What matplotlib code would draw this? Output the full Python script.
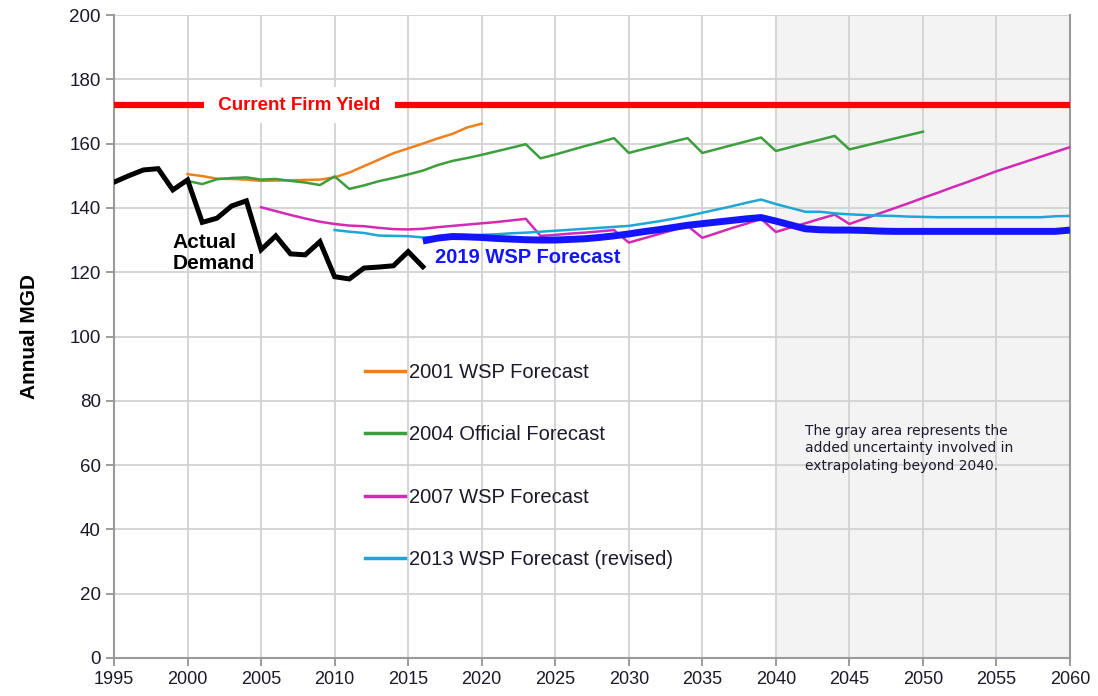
import matplotlib
matplotlib.use("Agg")
from matplotlib import pyplot as plt
from matplotlib.lines import Line2D
import numpy as np

plt.rcParams['font.family'] = ['Liberation Sans', 'DejaVu Sans']

# ---- data (MGD) ----
firm_yield = 172

actual_years = list(range(1995, 2017))
actual = [148, 150, 151.8, 152.2, 145.6, 148.7, 135.5, 136.8, 140.6, 142.2, 127,
          131.3, 125.7, 125.4, 129.5, 118.6, 117.9, 121.3, 121.6, 122, 126.4, 121.7]

f2001_years = list(range(2000, 2021))
f2001 = [150.5, 149.9, 149.1, 149.0, 148.8, 148.4, 148.5, 148.6, 148.7, 148.8, 149.5,
         151, 153, 155, 157, 158.5, 160, 161.6, 163, 165, 166.2]

f2004_years = list(range(2000, 2051))
f2004 = [148.4, 147.4, 148.9, 149.3, 149.5, 148.8, 149.0, 148.4, 147.9, 147.1, 149.8,
         145.9, 147.0, 148.3, 149.3, 150.4, 151.6, 153.3, 154.6, 155.5, 156.5,
         157.6, 158.7, 159.8, 155.4, 156.6, 157.9, 159.2, 160.4, 161.7, 157.1,
         158.3, 159.4, 160.6, 161.7, 157.1, 158.3, 159.5, 160.7, 161.9, 157.7,
         158.9, 160.1, 161.2, 162.4, 158.2, 159.3, 160.4, 161.5, 162.6, 163.7]

f2007_years = list(range(2005, 2061))
f2007 = [140.2, 139.0, 137.8, 136.7, 135.7, 135.0, 134.5, 134.3, 133.8, 133.4, 133.3,
         133.5, 134.0, 134.4, 134.8, 135.2, 135.6, 136.1, 136.6, 131.3, 131.6,
         132.0, 132.3, 132.7, 133.1, 129.2, 130.5, 131.8, 133.1, 134.4, 130.7,
         132.2, 133.7, 135.1, 136.6, 132.5, 133.9, 135.2, 136.6, 137.9, 135.0,
         136.6, 138.2, 139.8, 141.4, 143.1, 144.7, 146.4, 148.0, 149.7, 151.4,
         152.9, 154.4, 155.9, 157.4, 158.9]

f2013_years = list(range(2010, 2061))
f2013 = [133.1, 132.6, 132.2, 131.4, 131.3, 131.2, 130.8, 131.0, 131.2, 131.4, 131.6,
         131.8, 132.1, 132.3, 132.6, 132.9, 133.2, 133.5, 133.8, 134.1, 134.4,
         135.1, 135.8, 136.6, 137.5, 138.5, 139.5, 140.5, 141.6, 142.6, 141.2,
         140.0, 138.8, 138.8, 138.3, 138.0, 137.8, 137.6, 137.5, 137.3, 137.2,
         137.1, 137.1, 137.1, 137.1, 137.1, 137.1, 137.1, 137.1, 137.4, 137.5]

f2019_years = list(range(2016, 2061))
f2019 = [129.7, 130.6, 131.1, 131.0, 130.8, 130.5, 130.3, 130.1, 130.0, 130.0,
         130.2, 130.4, 130.8, 131.3, 131.9, 132.6, 133.2, 133.9, 134.6, 135.1,
         135.6, 136.1, 136.6, 137.0, 135.9, 134.7, 133.5, 133.2, 133.1, 133.1,
         133.0, 132.8, 132.7, 132.7, 132.7, 132.7, 132.7, 132.7, 132.7, 132.7,
         132.7, 132.7, 132.7, 132.7, 133.1]

legend_labels = ['2001 WSP Forecast', '2004 Official Forecast',
                 '2007 WSP Forecast', '2013 WSP Forecast (revised)']

x_ticks = list(range(1995, 2061, 5))
y_ticks = list(range(0, 201, 20))

# ---- colours ----
C_ORANGE = '#f07f1e'
C_GREEN = '#3c9e3c'
C_MAGENTA = '#d22ab4'
C_CYAN = '#1ea6d6'
C_BLUE = '#1414ff'
C_RED = '#ff0000'

fig = plt.figure(figsize=(10.98, 6.96), dpi=100)
ax = fig.add_axes([114 / 1098, 1 - 658 / 696, 956 / 1098, 643 / 696])

ax.axvspan(2040, 2060, color='#f3f3f3', zorder=0, lw=0)
ax.grid(True, color='#d2d2d2', lw=1.3, zorder=1)
ax.set_axisbelow(True)

ax.plot([1995, 2060], [firm_yield, firm_yield], color=C_RED, lw=4.5, zorder=3,
        solid_capstyle='butt')
ax.plot(f2001_years, f2001, color=C_ORANGE, lw=1.8, zorder=4)
ax.plot(f2004_years, f2004, color=C_GREEN, lw=1.8, zorder=4)
ax.plot(f2007_years, f2007, color=C_MAGENTA, lw=1.8, zorder=4)
ax.plot(f2013_years, f2013, color=C_CYAN, lw=1.8, zorder=5)
ax.plot(f2019_years, f2019, color=C_BLUE, lw=5, zorder=6, solid_capstyle='butt')
ax.plot(actual_years, actual, color='black', lw=3.6, zorder=7,
        solid_joinstyle='miter')

ax.set_xlim(1995, 2060)
ax.set_ylim(0, 200)
ax.set_xticks(x_ticks)
ax.set_yticks(y_ticks)
ax.tick_params(axis='both', labelsize=13, colors='#8a8a8a', labelcolor='#1a1a2a',
               length=6, width=1.2, direction='out')
ax.tick_params(axis='y', labelsize=13.5)

for side in ['left', 'bottom', 'right']:
    ax.spines[side].set_color('#9a9a9a')
    ax.spines[side].set_linewidth(1.5)
ax.spines['top'].set_visible(False)

ax.set_ylabel('Annual MGD', fontsize=15, fontweight='bold', labelpad=22)

# labels on the chart
ax.text(2007.6, firm_yield, ' Current Firm Yield ', color=C_RED, fontsize=13.5,
        fontweight='bold', ha='center', va='center', zorder=8,
        bbox=dict(facecolor='white', edgecolor='none', boxstyle='square,pad=0.5'))
ax.text(1999.0, 132.2, 'Actual\nDemand', color='black', fontsize=15,
        fontweight='bold', ha='left', va='top', linespacing=1.12, zorder=8)
ax.text(2016.8, 124.5, '2019 WSP Forecast', color=C_BLUE, fontsize=14.5,
        fontweight='bold', ha='left', va='center', zorder=8)
ax.text(2042.0, 72.8, 'The gray area represents the\nadded uncertainty involved in\n'
        'extrapolating beyond 2040.', family='DejaVu Sans', fontsize=10,
        color='#1a1a2a', ha='left', va='top', linespacing=1.3, zorder=8)

handles = [Line2D([], [], color=c, lw=2.5)
           for c in [C_ORANGE, C_GREEN, C_MAGENTA, C_CYAN]]
leg = ax.legend(handles, legend_labels, loc='upper left',
                bbox_to_anchor=(251 / 956, 295 / 643), frameon=False,
                fontsize=14.5, handlelength=2.0, handletextpad=0.2,
                labelspacing=2.15, borderpad=0, borderaxespad=0)
for t in leg.get_texts():
    t.set_color('#1a1a2a')

fig.savefig('out.png', dpi=100)
